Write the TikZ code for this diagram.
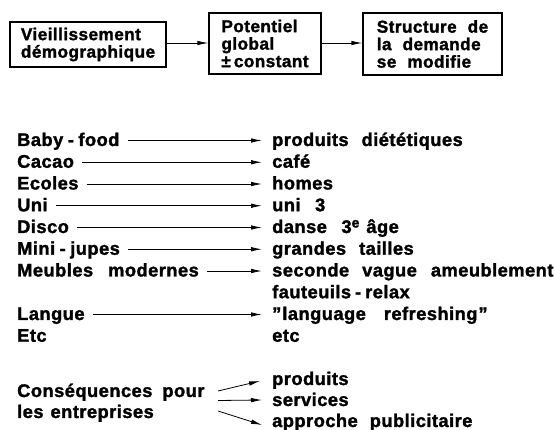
\documentclass[tikz,border=0pt]{standalone}
\usepackage{fontspec}
\setmainfont{Liberation Sans}[LetterSpace=2.5,BoldFeatures={FakeBold=1.6}]
\usetikzlibrary{arrows.meta,calc}
\newcommand\gp[1]{\hspace{#1pt}}
\newcommand\rowfont{\bfseries\fontsize{18.3}{20}\selectfont}
\newcommand\boxfont{\bfseries\fontsize{17.2}{17.5}\selectfont}
\newcommand\supe{\raisebox{5.5pt}{\fontsize{14}{14}\selectfont e}}
\tikzset{
  boxnode/.style={draw, line width=1.3pt, align=left, font=\boxfont, inner sep=0pt},
  lt/.style={anchor=base west, inner sep=0pt, font=\rowfont},
  arr/.style={draw, line width=0.8pt, -{Latex[length=11pt,width=4.5pt]}}
}
\begin{document}
\begin{tikzpicture}[x=1pt,y=-1pt]
\useasboundingbox (0,0) rectangle (555,430);
% top boxes
\node[boxnode, minimum width=156pt, minimum height=45pt] (b1) at (88,44.5)
  {Vieillissement\\démographique};
\node[boxnode, minimum width=112pt, minimum height=61pt] (b2) at (265,43.5)
  {Potentiel\\global\\±\gp3constant};
\node[boxnode, minimum width=139pt, minimum height=62pt] (b3) at (432.5,44)
  {Structure\gp{11}de\\la\gp{11}demande\\se\gp{11}modifie};
\draw[arr] ($(b1.east)+(0,-1.5)$) -- ($(b1.east -| b2.west)+(0,-1.5)$);
\draw[arr] ($(b2.east)+(0,-0.5)$) -- ($(b2.east -| b3.west)+(0,-0.5)$);
% left column
\node[lt] (l0) at (17,146) {Baby\gp{4.5}-\gp{4.5}food};
\node[lt] (l1) at (17,167.75) {Cacao};
\node[lt] (l2) at (17,189.5) {Ecoles};
\node[lt] (l3) at (17,211.25) {Uni};
\node[lt] (l4) at (17,233) {Disco};
\node[lt] (l5) at (17,254.75) {Mini\gp{4.5}-\gp{4.5}jupes};
\node[lt] (l6) at (17,276.5) {Meubles\gp{15}modernes};
\node[lt] (l8) at (17,320) {Langue};
\node[lt] (l9) at (17,341.75) {Etc};
% right column
\node[lt] (r0) at (272,146) {produits\gp{13}diététiques};
\node[lt] (r1) at (272,167.75) {café};
\node[lt] (r2) at (272,189.5) {homes};
\node[lt] (r3) at (272,211.25) {uni\gp9 3};
\node[lt] (r4) at (272,233) {danse\gp9 3\supe\gp7âge};
\node[lt] (r5) at (272,254.75) {grandes\gp{13}tailles};
\node[lt] (r6) at (272,276.5) {seconde\gp{13}vague\gp{14}ameublement};
\node[lt] (r7) at (272,298.25) {fauteuils\gp{4}-\gp{4}relax};
\node[lt] (r8) at (272,320) {"\gp1language\gp{18}refreshing\gp1"};
\node[lt] (r9) at (272,341.75) {etc};
\foreach \i in {0,1,2,3,4,5,6,8}{
  \draw[arr] ($(l\i.base east)+(8,-5.5)$) -- ($(r\i.base west)+(-10,-5.5)$);
}
% consequences
\node[lt] (c1) at (17,397) {Conséquences\gp{10}pour};
\node[lt] (c2) at (17,418) {les\gp7entreprises};
\node[lt] (p1) at (272,385) {produits};
\node[lt] (p2) at (272,406) {services};
\node[lt] (p3) at (272,427) {approche\gp{12}publicitaire};
\coordinate (s1) at (218,391);
\coordinate (s2) at (218,400.5);
\coordinate (s3) at (218,411);
\draw[arr] (s1) -- ($(p1.base west)+(-12,-4)$);
\draw[arr] (s2) -- ($(p2.base west)+(-10,-6)$);
\draw[arr] (s3) -- ($(p3.base west)+(-10,-2)$);
\end{tikzpicture}
\end{document}
